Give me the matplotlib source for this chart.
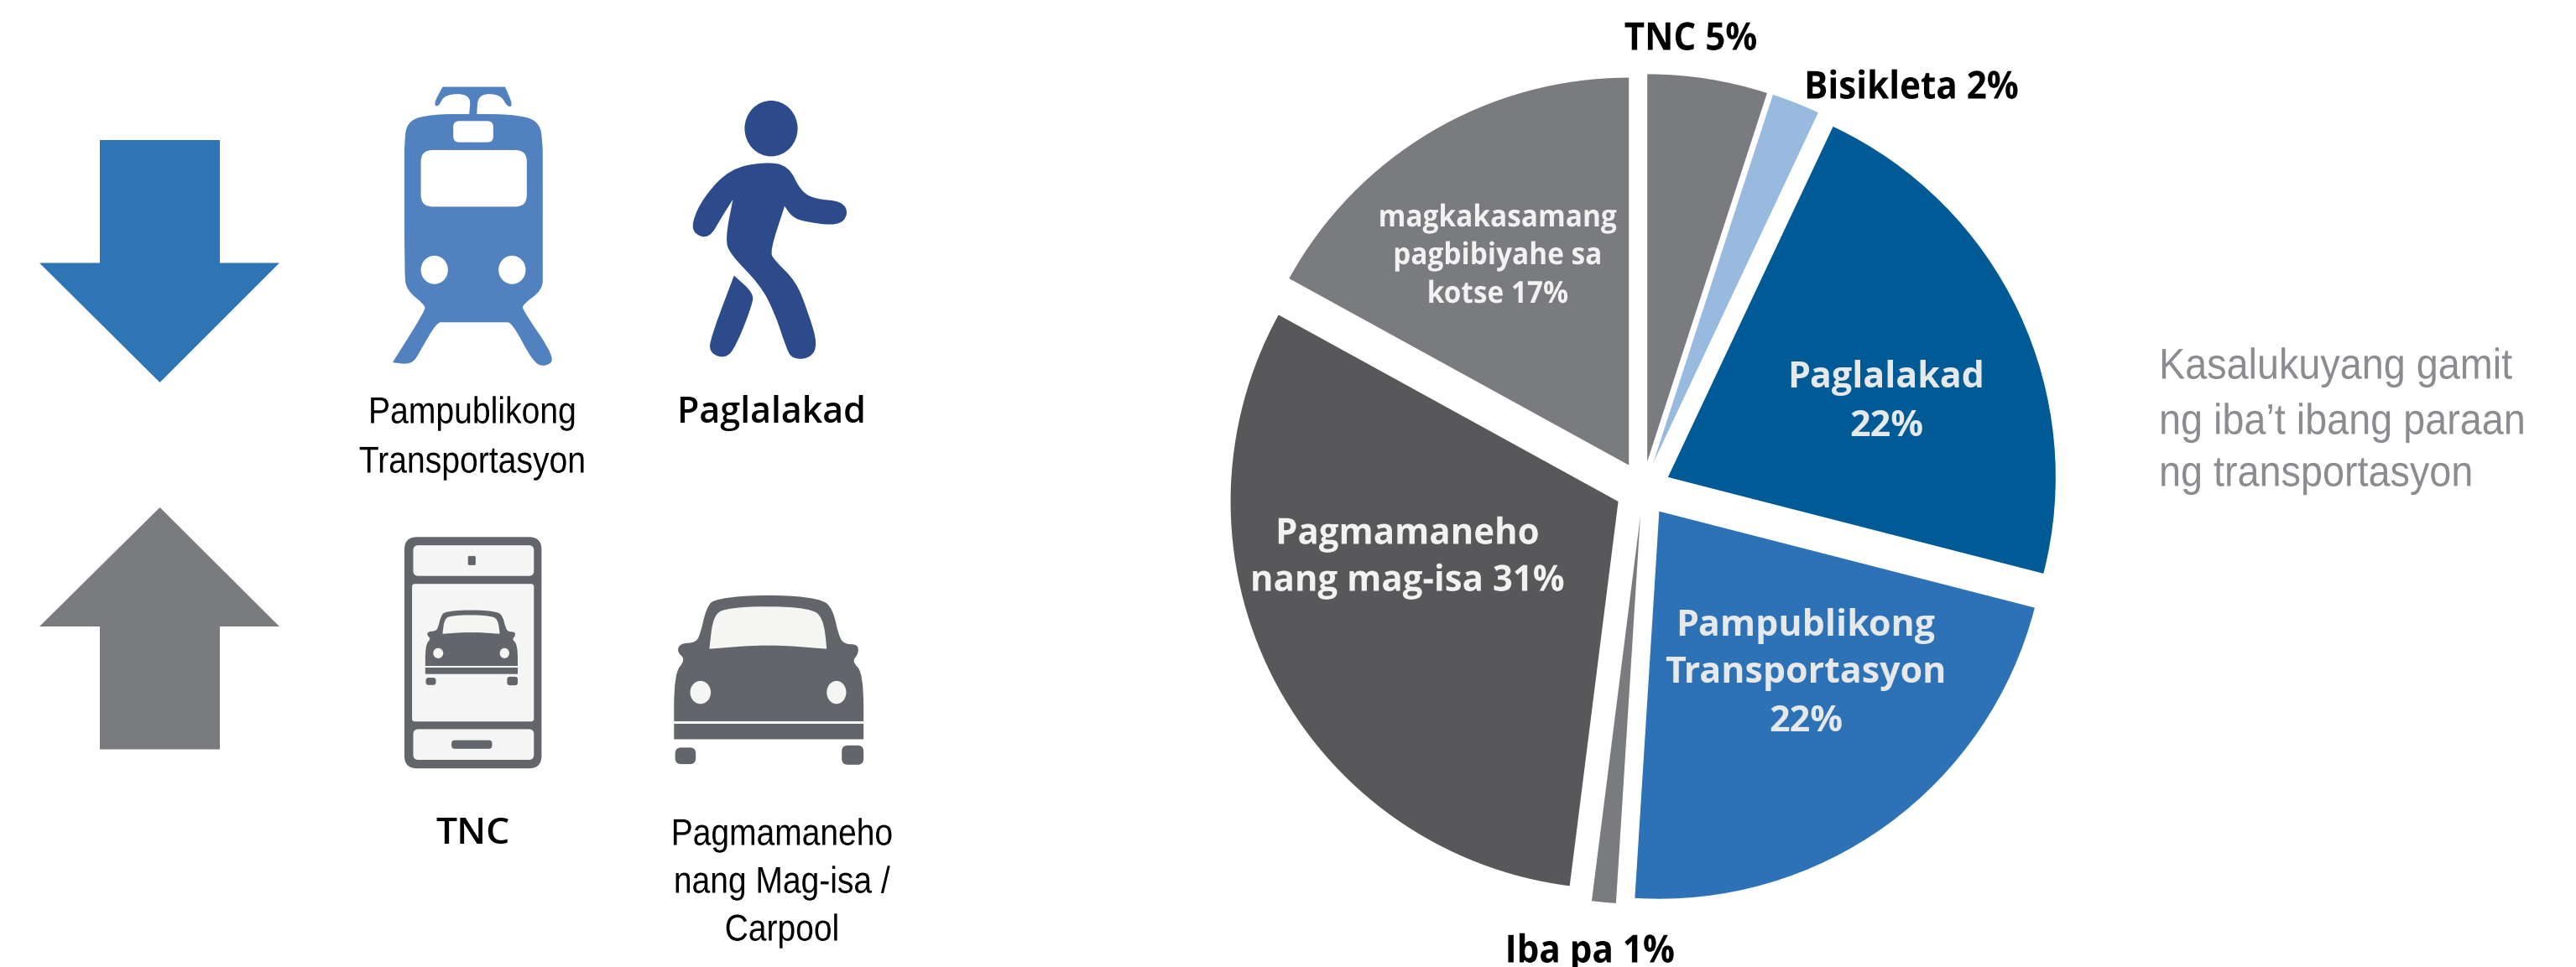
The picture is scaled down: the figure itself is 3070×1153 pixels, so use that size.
import numpy as np
import matplotlib
matplotlib.use("Agg")
import matplotlib.pyplot as plt
from matplotlib.path import Path
from matplotlib.patches import PathPatch, Polygon, Ellipse, FancyBboxPatch, Rectangle
from matplotlib.patheffects import AbstractPathEffect
from matplotlib.transforms import Affine2D

# ---------- data ----------
categories = ["TNC", "Bisikleta", "Paglalakad", "Pampublikong Transportasyon",
              "Iba pa", "Pagmamaneho nang mag-isa", "magkakasamang pagbibiyahe sa kotse"]
values = [5, 2, 22, 22, 1, 31, 17]
colors = ["#7a7b7e", "#97bade", "#005a96", "#2d72b6", "#7a7b7e", "#58585a", "#7a7b7e"]
TITLE = ["Kasalukuyang gamit", "ng iba’t ibang paraan", "ng transportasyon"]

W, H = 3070, 1153
BOLD = ["Open Sans", "DejaVu Sans"]
NARROW = ["Liberation Sans", "DejaVu Sans"]

fig = plt.figure(figsize=(W / 100, H / 100), dpi=100, facecolor="white")
ax = fig.add_axes([0, 0, 1, 1])

ax.pie(values, explode=[33] * len(values), startangle=90, counterclock=False,
       radius=462, center=(1958, H - 583), colors=colors,
       wedgeprops=dict(linewidth=0), frame=True)
ax.set_xlim(0, W)
ax.set_ylim(0, H)
ax.set_aspect("equal")
ax.axis("off")


def Y(y):
    return H - y


class Narrow(AbstractPathEffect):
    """Condense a text horizontally about its anchor."""
    def __init__(self, cx, sx):
        super().__init__()
        self.cx, self.sx = cx, sx

    def draw_path(self, renderer, gc, tpath, affine, rgbFace=None):
        t = affine + Affine2D().translate(-self.cx, 0).scale(self.sx, 1).translate(self.cx, 0)
        renderer.draw_path(gc, tpath, t, rgbFace)


def lines(x, ys, txt, size, color="black", family=NARROW, weight="normal", ha="center", sx=1.0):
    for y, t in zip(ys, txt):
        a = ax.text(x, Y(y), t, fontsize=size, color=color, family=family, weight=weight,
                    ha=ha, va="center")
        if sx != 1.0:
            a.set_path_effects([Narrow(x, sx)])


# ---------- icon helpers: coordinates in zoomed-crop space ----------
def z1(p):
    return (p[0] * 1100 / 1568, Y(60 + p[1] * 560 / 1568))


def z2(p):
    return (p[0] * 1100 / 1568, Y(580 + p[1] * 573 / 1568))


def blob(points, conv, color, z=3):
    pts = np.array([conv(p) for p in points])
    n = len(pts)
    verts = [(pts[-1] + pts[0]) / 2]
    codes = [Path.MOVETO]
    for i in range(n):
        verts += [pts[i], (pts[i] + pts[(i + 1) % n]) / 2]
        codes += [Path.CURVE3, Path.CURVE3]
    ax.add_patch(PathPatch(Path(verts, codes), fc=color, ec="none", zorder=z))


def ell(cx, cy, w, h, conv, color, z=4):
    c = conv((cx, cy))
    sx = abs(conv((1, 0))[0] - conv((0, 0))[0])
    sy = abs(conv((0, 1))[1] - conv((0, 0))[1])
    ax.add_patch(Ellipse(c, w * sx, h * sy, fc=color, ec="none", zorder=z))


def rrect(x0, y0, x1, y1, r, conv, color, z=4):
    a = conv((x0, y1))
    b = conv((x1, y0))
    ax.add_patch(FancyBboxPatch((a[0] + r, a[1] + r), b[0] - a[0] - 2 * r, b[1] - a[1] - 2 * r,
                                boxstyle=f"round,pad={r},rounding_size={r}",
                                fc=color, ec="none", zorder=z))


# arrows
ax.add_patch(Polygon([(119, Y(167)), (262, Y(167)), (262, Y(313.5)), (333, Y(313.5)),
                      (190.5, Y(456)), (47, Y(313.5)), (119, Y(313.5))], fc="#2e75b6", ec="none"))
ax.add_patch(Polygon([(190.5, Y(605)), (333, Y(747)), (262, Y(747)), (262, Y(893.5)),
                      (119, Y(893.5)), (119, Y(747)), (47, Y(747))], fc="#7a7b7e", ec="none"))

# train
TR = "#5181bf"
blob([(800, 213), (735, 213), (690, 235), (687, 330), (687, 330), (687, 740), (690, 800), (722, 850),
      (722, 870), (667, 1042), (667, 1042), (700, 1050), (715, 1000), (742, 908), (755, 908),
      (855, 908), (870, 908), (905, 1040), (925, 1058), (945, 1030), (888, 868), (888, 848),
      (922, 800), (922, 740), (922, 330), (922, 330), (918, 235), (870, 213)], z1, TR)
blob([(752, 122), (752, 122), (858, 122), (858, 122), (872, 185), (862, 190), (850, 146), (812, 146),
      (810, 215), (810, 215), (797, 215), (797, 215), (800, 146), (755, 146), (745, 190), (736, 180)], z1, TR)
rrect(770, 236, 838, 307, 7, z1, "white")
rrect(715, 333, 895, 522, 14, z1, "white")
ell(738, 733, 46, 95, z1, "white")
ell(870, 733, 46, 95, z1, "white")

# walker
WK = "#2d4b8a"
ell(1310, 261, 90, 186, z1, WK)
blob([(1300, 372), (1340, 385), (1360, 470), (1385, 497), (1430, 503), (1442, 545), (1425, 587),
      (1365, 572), (1345, 555), (1333, 520), (1333, 520), (1308, 670), (1315, 700), (1352, 770),
      (1372, 870), (1390, 985), (1375, 1030), (1345, 1030), (1335, 990), (1315, 870), (1290, 780),
      (1240, 680), (1232, 630), (1245, 498), (1245, 498), (1225, 560), (1205, 628), (1180, 615),
      (1175, 575), (1195, 490), (1240, 395)], z1, WK)
blob([(1247, 752), (1247, 752), (1280, 810), (1278, 850), (1250, 990), (1232, 1030), (1205, 1010),
      (1207, 960)], z1, WK)

# phone
PH = "#62666b"
SC = "#f5f5f5"
rrect(687, 165, 920, 920, 15, z2, PH, 3)
rrect(702, 192, 907, 292, 6, z2, SC)
rrect(700, 318, 907, 767, 3, z2, SC)
rrect(702, 792, 907, 892, 6, z2, SC)
rrect(795, 227, 808, 257, 1.5, z2, PH, 5)
rrect(767, 828, 836, 856, 4, z2, PH, 5)


def car(conv, color, glass, z=5, wheel=7):
    body = [(1306, 352), (1395, 365), (1415, 400), (1425, 490), (1435, 515), (1458, 515), (1458, 548),
            (1447, 570), (1467, 610), (1467, 825), (1467, 825), (1145, 825), (1145, 825), (1145, 610),
            (1165, 565), (1150, 540), (1155, 512), (1182, 510), (1190, 480), (1200, 395), (1215, 365)]
    blob(body, conv, color, z)
    blob([(1205, 530), (1205, 530), (1212, 415), (1240, 396), (1306, 390), (1375, 398), (1398, 425),
          (1405, 530), (1403, 530), (1306, 515)], conv, glass, z + 1)
    ell(1190, 672, 35, 75, conv, glass, z + 1)
    ell(1421, 672, 33, 75, conv, glass, z + 1)
    a, b = conv((1145, 775)), conv((1467, 767))
    ax.add_patch(Rectangle(a, b[0] - a[0], b[1] - a[1], fc=glass, ec="none", zorder=z + 1))
    rrect(1147, 852, 1182, 906, wheel, conv, color, z)
    rrect(1430, 845, 1467, 908, wheel, conv, color, z)


car(z2, PH, "#f5f5f3")


def small(p):
    return z2((801 + (p[0] - 1306) * 0.4876, 402 + (p[1] - 352) * 0.444))


car(small, PH, "#f5f5f3", 6, wheel=3)

# ---------- text ----------
lines(563, [493, 552], ["Pampublikong", "Transportasyon"], 32, sx=0.88)
lines(919, [493], ["Paglalakad"], 31, family=BOLD, weight="semibold")
lines(564, [994], ["TNC"], 32, family=BOLD, weight="semibold", sx=1.0)
lines(932, [996, 1053, 1110], ["Pagmamaneho", "nang Mag-isa /", "Carpool"], 32, sx=0.877)

lines(2015, [47], ["TNC 5%"], 33, family=BOLD, weight="bold", sx=0.92)
lines(2278, [105], ["Bisikleta 2%"], 33, family=BOLD, weight="bold", sx=0.92)
lines(1895, [1135], ["Iba pa 1%"], 33, family=BOLD, weight="bold", sx=0.92)
lines(1785, [261, 306, 352], ["magkakasamang", "pagbibiyahe sa", "kotse 17%"], 26,
      color="#f2f2f2", family=BOLD, weight="bold", sx=0.925)
lines(2248, [450, 508], ["Paglalakad", "22%"], 31, color="#e6e8ea", family=BOLD, weight="bold", sx=1.0)
lines(2152, [747, 803, 861], ["Pampublikong", "Transportasyon", "22%"], 31, color="#e6e8ea",
      family=BOLD, weight="bold", sx=1.0)
lines(1677, [637, 693], ["Pagmamaneho", "nang mag-isa 31%"], 31, color="#f2f2f2", family=BOLD,
      weight="bold", sx=0.975)
lines(2573, [438, 504, 566], TITLE, 37, color="#8a8c8f", ha="left", sx=0.91)

fig.savefig("out.png", dpi=100, facecolor="white")
